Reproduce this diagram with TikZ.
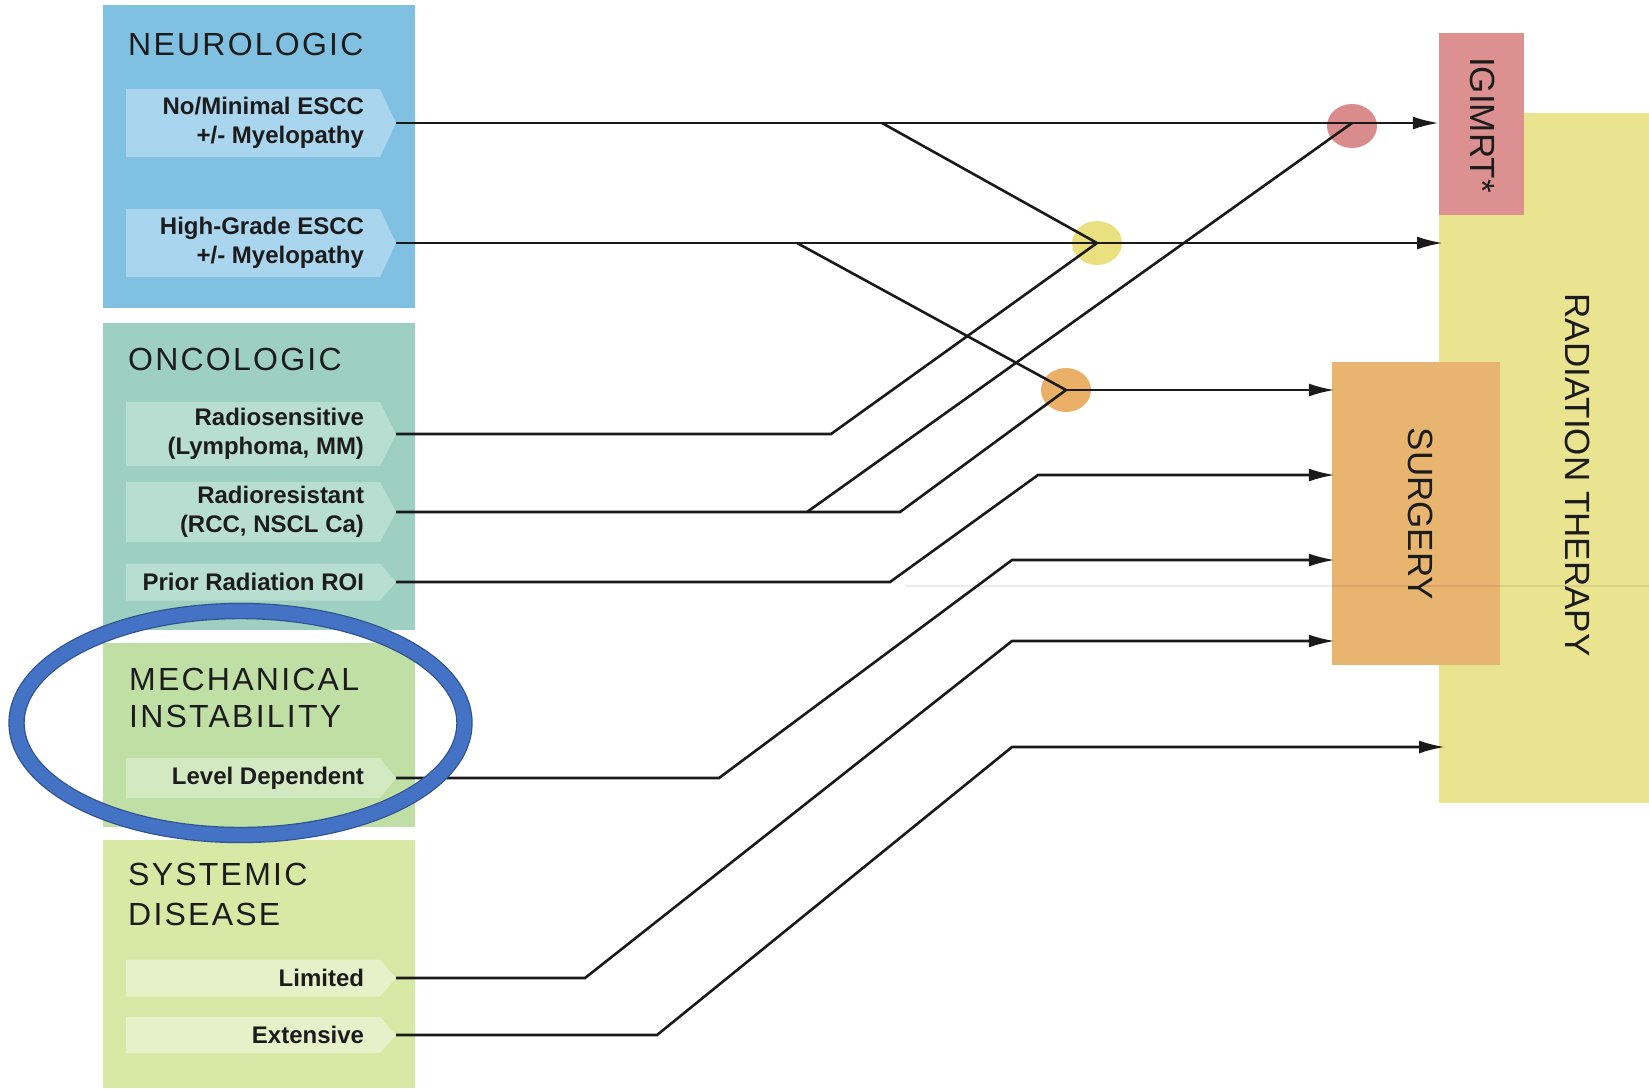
\documentclass[tikz,border=0pt]{standalone}
\usepackage{fontspec}
\setmainfont{Liberation Sans}
\newfontfamily\titlefont[LetterSpace=7]{Liberation Sans}
\usetikzlibrary{arrows.meta,calc,shapes.geometric}

\definecolor{neuroC}{HTML}{80C1E2}
\definecolor{neuroP}{HTML}{A9D6EE}
\definecolor{oncoC}{HTML}{9DD0C0}
\definecolor{oncoP}{HTML}{B8DED1}
\definecolor{mechC}{HTML}{BFDFA5}
\definecolor{mechP}{HTML}{D3E9C1}
\definecolor{sysC}{HTML}{D8E9A6}
\definecolor{sysP}{HTML}{E7F1C9}
\definecolor{igC}{HTML}{DC9190}
\definecolor{sgC}{HTML}{E8B570}
\definecolor{rtC}{HTML}{EAE38F}
\definecolor{cRC}{HTML}{DA8C8C}
\definecolor{cYC}{HTML}{EBE07F}
\definecolor{cOC}{HTML}{EAB067}
\definecolor{linec}{HTML}{1A1A1A}
\definecolor{txt}{HTML}{1C1C1C}
\definecolor{hlDark}{HTML}{2F528F}
\definecolor{hlBlue}{HTML}{4472C4}

% #1 name, #2 colour, #3 centre y, #4 half height, #5 text
\newcommand{\pill}[5]{%
  \fill[#2] (126,#3-#4) -- (380,#3-#4) -- (396,#3) -- (380,#3+#4) -- (126,#3+#4) -- cycle;
  \node[pilltext] (#1) at (364,#3) {#5};
  \coordinate (#1t) at (396,#3);
}

\begin{document}
\begin{tikzpicture}[x=1pt,y=-1pt,
  conn/.style={draw=linec, line width=2.6pt, line join=miter},
  arr/.style={conn, -{Latex[length=26pt,width=13pt]}},
  groupbox/.style={anchor=north west, minimum width=312pt, inner sep=0pt, outer sep=0pt},
  pilltext/.style={font=\fontsize{24}{29.5}\selectfont\bfseries, text=txt, align=right,
     inner sep=0pt, outer sep=0pt, anchor=east},
  grouptitle/.style={font=\titlefont\fontsize{32}{38}\selectfont, text=txt, anchor=base west, inner sep=0pt},
  vlabel/.style={font=\fontsize{35}{40}\selectfont, text=txt, rotate=-90, inner sep=0pt},
  joint/.style={ellipse, minimum width=50pt, minimum height=44pt, inner sep=0pt}
]
\useasboundingbox (0,0) rectangle (1649,1088);
\fill[white] (0,0) rectangle (1649,1088);

% group boxes
\node[groupbox, fill=neuroC, minimum height=303pt] (gneuro) at (103,5) {};
\node[groupbox, fill=oncoC, minimum height=307pt] (gonco) at (103,323) {};
\node[groupbox, fill=mechC, minimum height=184pt] (gmech) at (103,643) {};
\node[groupbox, fill=sysC, minimum height=248pt] (gsys) at (103,840) {};

% titles
\node[grouptitle] (tneuro) at (128,55) {NEUROLOGIC};
\node[grouptitle] (tonco) at (128,370) {ONCOLOGIC};
\node[grouptitle] (tmechA) at (129,690) {MECHANICAL};
\node[grouptitle] (tmechB) at (129,727) {INSTABILITY};
\node[grouptitle] (tsysA) at (128,885) {SYSTEMIC};
\node[grouptitle] (tsysB) at (128,925) {DISEASE};

% pills
\pill{p1}{neuroP}{123}{34}{No/Minimal ESCC\\+/- Myelopathy}
\pill{p2}{neuroP}{243}{34}{High-Grade ESCC\\+/- Myelopathy}
\pill{p3}{oncoP}{434}{32}{Radiosensitive\\(Lymphoma, MM)}
\pill{p4}{oncoP}{512}{30}{Radioresistant\\(RCC, NSCL Ca)}
\pill{p5}{oncoP}{582}{18.5}{Prior Radiation ROI}
\pill{p6}{mechP}{778}{20}{Level Dependent}
\pill{p7}{sysP}{978}{18.5}{Limited}
\pill{p8}{sysP}{1035}{18}{Extensive}

% right-hand targets
\node[fill=rtC, anchor=north west, minimum width=210pt, minimum height=690pt, inner sep=0pt] (rt) at (1439,113) {};
\node[vlabel] (rtlabel) at (1578,475) {RADIATION THERAPY};
\node[vlabel, fill=igC, minimum width=182pt, minimum height=85pt] (ig) at (1481.5,124) {};
\node[vlabel] (iglabel) at (1483,125) {IGIMRT*};
\node[vlabel, fill=sgC, minimum width=303pt, minimum height=168pt] (sg) at (1416,513.5) {};
\node[vlabel] (sglabel) at (1421,514) {SURGERY};
% faint scan line
\draw[black, opacity=0.08, line width=1.5pt] (905,586) -- (1649,586);

% junction dots
\node[joint, fill=cRC] (cR) at (1352,126) {};
\node[joint, fill=cYC] (cY) at (1097,243) {};
\node[joint, fill=cOC] (cO) at (1066,390) {};

% connectors
\coordinate (b1) at (882,123);
\coordinate (b2) at (797,243);
\coordinate (b4) at (807,512);
\coordinate (jR) at (1352,123);
\coordinate (a5) at (1038,475);
\coordinate (a6) at (1012,560);
\coordinate (a7) at (1012,641);
\coordinate (a8) at (1012,747);

\draw[arr] (p1t) -- (p1t -| ig.south);
\draw[conn] (b1) -- (cY.center);
\draw[arr] (p2t) -- ($(p2t -| rt.west)+(4,0)$);
\draw[conn] (b2) -- (cO.center);
\draw[conn] (p3t) -- (831,434) -- (cY.center);
\draw[conn] (p4t) -- (900,512) -- (cO.center);
\draw[conn] (b4) -- (jR);
\draw[arr] (cO.center) -- ($(cO.center -| sg.south)+(3,0)$);
\draw[arr] (p5t) -- (890,582) -- (a5) -- ($(a5 -| sg.south)+(3,0)$);
\draw[arr] (p6t) -- (719,778) -- (a6) -- ($(a6 -| sg.south)+(3,0)$);
\draw[arr] (p7t) -- (585,978) -- (a7) -- ($(a7 -| sg.south)+(3,0)$);
\draw[arr] (p8t) -- (657,1035) -- (a8) -- ($(a8 -| rt.west)+(6,0)$);

% highlight ellipse
\node[ellipse, draw=hlDark, double=hlBlue, double distance=14pt, line width=1.2pt,
      minimum width=448pt, minimum height=224pt, inner sep=0pt] (hl) at (240.5,723) {};
\end{tikzpicture}
\end{document}
